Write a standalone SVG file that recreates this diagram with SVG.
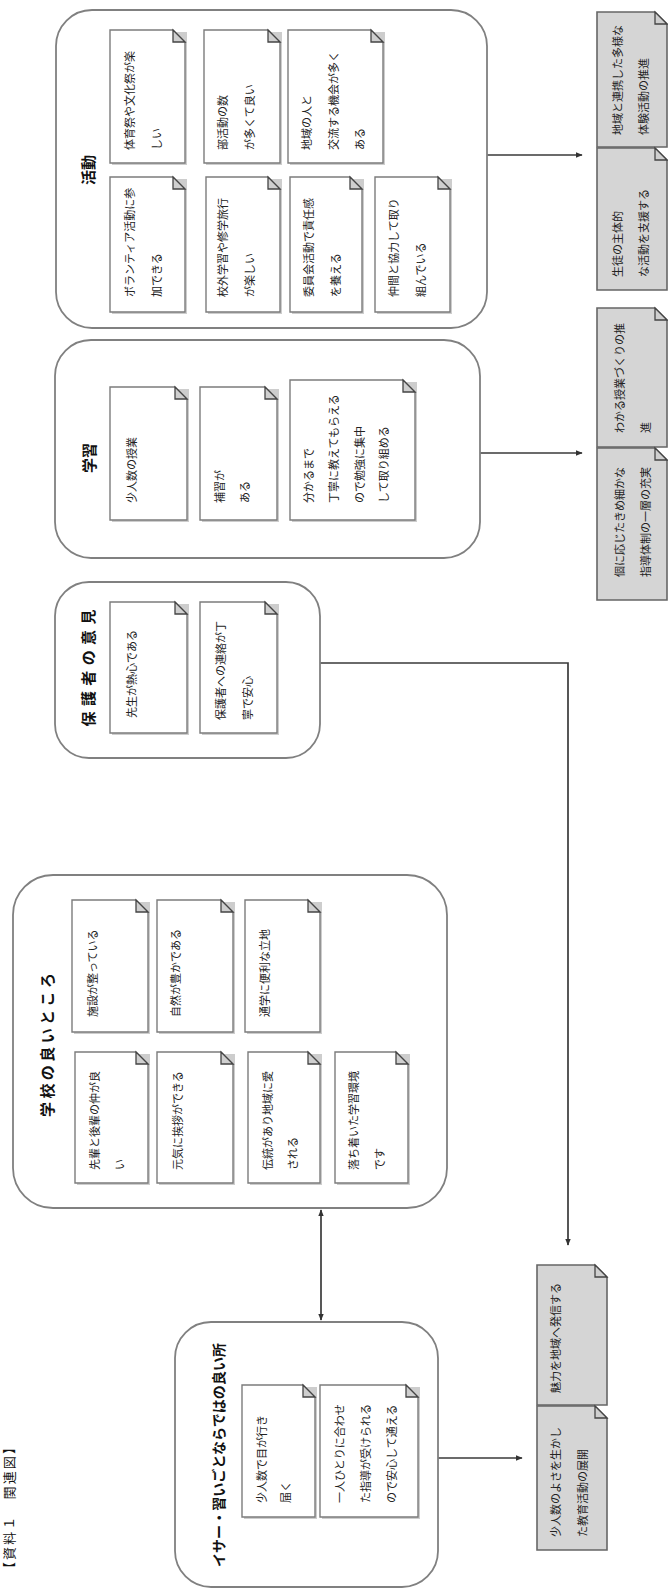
<svg xmlns="http://www.w3.org/2000/svg" width="668" height="1591" viewBox="0 0 668 1591">
<defs>
<style>
.grp{fill:#fff;stroke:#808080;stroke-width:1.8}
.card{fill:#fff;stroke:#7c7c7c;stroke-width:1.4}
.gcard{fill:#d5d5d5;stroke:#666;stroke-width:1.6}
.sh{fill:#cdcdcd}
.fold{fill:#cfcfcf;stroke:#444;stroke-width:1.3}
.t{font-family:"Noto Sans CJK JP","Noto Sans",sans-serif;font-size:11px;fill:#222;dominant-baseline:central}
.ti{font-family:"Noto Sans CJK JP","Noto Sans",sans-serif;font-size:15px;font-weight:bold;fill:#111;dominant-baseline:central;text-anchor:middle}
.cn{fill:none;stroke:#3a3a3a;stroke-width:1.7}
</style>
<marker id="ah" viewBox="0 0 10 10" refX="9" refY="5" markerWidth="7" markerHeight="7" orient="auto-start-reverse" markerUnits="userSpaceOnUse">
<path d="M0,1 L10,5 L0,9 Z" fill="#333"/>
</marker>
</defs>
<rect width="668" height="1591" fill="#fff"/>

<g id="title">
<text class="ti" style="font-size:13px;font-weight:normal" transform="translate(8,1508) rotate(-90)" textLength="134" lengthAdjust="spacing">【資料１　関連図】</text>
</g>

<g id="connectors">
<line class="cn" x1="487" y1="155" x2="582" y2="155" marker-end="url(#ah)"/>
<line class="cn" x1="480" y1="453" x2="582" y2="453" marker-end="url(#ah)"/>
<polyline class="cn" points="320,663 568,663 568,1245" marker-end="url(#ah)"/>
<line class="cn" x1="321" y1="1210" x2="321" y2="1320" marker-start="url(#ah)" marker-end="url(#ah)"/>
<line class="cn" x1="438" y1="1458" x2="522" y2="1458" marker-end="url(#ah)"/>
</g>

<g id="g1">
<rect class="grp" x="56" y="10" width="431" height="318" rx="36"/>
<text class="ti" transform="translate(87,170) rotate(-90)">活動</text>
<g id="c1a"><path class="sh" d="M112,32h75v133h-75z"/><path class="card" d="M110,30H173L185,42V163H110Z"/><path class="fold" d="M173,30V42H185Z"/>
<text class="t" transform="translate(129,150) rotate(-90)">体育祭や文化祭が楽</text><text class="t" transform="translate(156,150) rotate(-90)">しい</text></g>
<g id="c1b"><path class="sh" d="M206,32h76v133h-76z"/><path class="card" d="M204,30H268L280,42V163H204Z"/><path class="fold" d="M268,30V42H280Z"/>
<text class="t" transform="translate(222,150) rotate(-90)">部活動の数</text><text class="t" transform="translate(249,150) rotate(-90)">が多くて良い</text></g>
<g id="c1c"><path class="sh" d="M290,32h95v133h-95z"/><path class="card" d="M288,30H371L383,42V163H288Z"/><path class="fold" d="M371,30V42H383Z"/>
<text class="t" transform="translate(306,150) rotate(-90)">地域の人と</text><text class="t" transform="translate(333,150) rotate(-90)">交流する機会が多く</text><text class="t" transform="translate(359,150) rotate(-90)">ある</text></g>
<g id="c1d"><path class="sh" d="M112,179h75v135h-75z"/><path class="card" d="M110,177H173L185,189V312H110Z"/><path class="fold" d="M173,177V189H185Z"/>
<text class="t" transform="translate(129,297) rotate(-90)">ボランティア活動に参</text><text class="t" transform="translate(156,297) rotate(-90)">加できる</text></g>
<g id="c1e"><path class="sh" d="M208,179h74v135h-74z"/><path class="card" d="M206,177H268L280,189V312H206Z"/><path class="fold" d="M268,177V189H280Z"/>
<text class="t" transform="translate(222,297) rotate(-90)">校外学習や修学旅行</text><text class="t" transform="translate(249,297) rotate(-90)">が楽しい</text></g>
<g id="c1f"><path class="sh" d="M292,179h72v135h-72z"/><path class="card" d="M290,177H350L362,189V312H290Z"/><path class="fold" d="M350,177V189H362Z"/>
<text class="t" transform="translate(308,297) rotate(-90)">委員会活動で責任感</text><text class="t" transform="translate(335,297) rotate(-90)">を養える</text></g>
<g id="c1g"><path class="sh" d="M377,179h75v135h-75z"/><path class="card" d="M375,177H438L450,189V312H375Z"/><path class="fold" d="M438,177V189H450Z"/>
<text class="t" transform="translate(393,297) rotate(-90)">仲間と協力して取り</text><text class="t" transform="translate(420,297) rotate(-90)">組んでいる</text></g>
</g>

<g id="g2">
<rect class="grp" x="55" y="340" width="425" height="218" rx="36"/>
<text class="ti" transform="translate(88,458) rotate(-90)">学習</text>
<g id="c2a"><path class="sh" d="M112,389h77v133h-77z"/><path class="card" d="M110,387H175L187,399V520H110Z"/><path class="fold" d="M175,387V399H187Z"/>
<text class="t" transform="translate(131,503) rotate(-90)">少人数の授業</text></g>
<g id="c2b"><path class="sh" d="M202,389h77v133h-77z"/><path class="card" d="M200,387H265L277,399V520H200Z"/><path class="fold" d="M265,387V399H277Z"/>
<text class="t" transform="translate(219,503) rotate(-90)">補習が</text><text class="t" transform="translate(244,503) rotate(-90)">ある</text></g>
<g id="c2c"><path class="sh" d="M292,382h125v140h-125z"/><path class="card" d="M290,380H403L415,392V520H290Z"/><path class="fold" d="M403,380V392H415Z"/>
<text class="t" transform="translate(308,503) rotate(-90)">分かるまで</text><text class="t" transform="translate(333,503) rotate(-90)">丁寧に教えてもらえる</text><text class="t" transform="translate(359,503) rotate(-90)">ので勉強に集中</text><text class="t" transform="translate(383,503) rotate(-90)">して取り組める</text></g>
</g>

<g id="g3">
<rect class="grp" x="55" y="582" width="265" height="176" rx="34"/>
<text class="ti" transform="translate(87,668) rotate(-90)" textLength="117" lengthAdjust="spacing">保護者の意見</text>
<g id="c3a"><path class="sh" d="M112,604h77v131h-77z"/><path class="card" d="M110,602H175L187,614V733H110Z"/><path class="fold" d="M175,602V614H187Z"/>
<text class="t" transform="translate(131,718) rotate(-90)">先生が熱心である</text></g>
<g id="c3b"><path class="sh" d="M202,604h77v131h-77z"/><path class="card" d="M200,602H265L277,614V733H200Z"/><path class="fold" d="M265,602V614H277Z"/>
<text class="t" transform="translate(220,720) rotate(-90)">保護者への連絡が丁</text><text class="t" transform="translate(247,720) rotate(-90)">寧で安心</text></g>
</g>

<g id="g4">
<rect class="grp" x="13" y="875" width="434" height="333" rx="40"/>
<text class="ti" transform="translate(46,1045) rotate(-90)" textLength="144" lengthAdjust="spacing">学校の良いところ</text>
<g id="c4a"><path class="sh" d="M74,902h76v132h-76z"/><path class="card" d="M72,900H136L148,912V1032H72Z"/><path class="fold" d="M136,900V912H148Z"/>
<text class="t" transform="translate(92,1017) rotate(-90)">施設が整っている</text></g>
<g id="c4b"><path class="sh" d="M159,902h76v132h-76z"/><path class="card" d="M157,900H221L233,912V1032H157Z"/><path class="fold" d="M221,900V912H233Z"/>
<text class="t" transform="translate(175,1017) rotate(-90)">自然が豊かである</text></g>
<g id="c4c"><path class="sh" d="M247,902h75v132h-75z"/><path class="card" d="M245,900H308L320,912V1032H245Z"/><path class="fold" d="M308,900V912H320Z"/>
<text class="t" transform="translate(264,1017) rotate(-90)">通学に便利な立地</text></g>
<g id="c4d"><path class="sh" d="M77,1054h73v131h-73z"/><path class="card" d="M75,1052H136L148,1064V1183H75Z"/><path class="fold" d="M136,1052V1064H148Z"/>
<text class="t" transform="translate(94,1170) rotate(-90)">先輩と後輩の仲が良</text><text class="t" transform="translate(119,1170) rotate(-90)">い</text></g>
<g id="c4e"><path class="sh" d="M159,1054h76v131h-76z"/><path class="card" d="M157,1052H221L233,1064V1183H157Z"/><path class="fold" d="M221,1052V1064H233Z"/>
<text class="t" transform="translate(177,1170) rotate(-90)">元気に挨拶ができる</text></g>
<g id="c4f"><path class="sh" d="M250,1054h72v131h-72z"/><path class="card" d="M248,1052H308L320,1064V1183H248Z"/><path class="fold" d="M308,1052V1064H320Z"/>
<text class="t" transform="translate(267,1170) rotate(-90)">伝統があり地域に愛</text><text class="t" transform="translate(292,1170) rotate(-90)">される</text></g>
<g id="c4g"><path class="sh" d="M337,1054h73v131h-73z"/><path class="card" d="M335,1052H396L408,1064V1183H335Z"/><path class="fold" d="M396,1052V1064H408Z"/>
<text class="t" transform="translate(353,1170) rotate(-90)">落ち着いた学習環境</text><text class="t" transform="translate(379,1170) rotate(-90)">です</text></g>
</g>

<g id="g5">
<rect class="grp" x="175" y="1322" width="263" height="265" rx="36"/>
<text class="ti" style="font-size:14px" transform="translate(218,1455) rotate(-90)" textLength="224" lengthAdjust="spacing">イサー・習いごとならではの良い所</text>
<g id="c5a"><path class="sh" d="M244,1387h73v132h-73z"/><path class="card" d="M242,1385H303L315,1397V1517H242Z"/><path class="fold" d="M303,1385V1397H315Z"/>
<text class="t" transform="translate(261,1503) rotate(-90)">少人数で目が行き</text><text class="t" transform="translate(285,1503) rotate(-90)">届く</text></g>
<g id="c5b"><path class="sh" d="M322,1387h98v132h-98z"/><path class="card" d="M320,1385H406L418,1397V1517H320Z"/><path class="fold" d="M406,1385V1397H418Z"/>
<text class="t" transform="translate(339,1503) rotate(-90)">一人ひとりに合わせ</text><text class="t" transform="translate(365,1503) rotate(-90)">た指導が受けられる</text><text class="t" transform="translate(391,1503) rotate(-90)">ので安心して通える</text></g>
</g>

<g id="outA1"><path class="gcard" d="M597,12H655L667,24V147H597Z"/><path class="fold" d="M655,12V24H667Z"/>
<text class="t" transform="translate(617,135) rotate(-90)">地域と連携した多様な</text><text class="t" transform="translate(643,135) rotate(-90)">体験活動の推進</text></g>
<g id="outA2"><path class="gcard" d="M597,148H655L667,160V290H597Z"/><path class="fold" d="M655,148V160H667Z"/>
<text class="t" transform="translate(617,277) rotate(-90)">生徒の主体的</text><text class="t" transform="translate(643,277) rotate(-90)">な活動を支援する</text></g>
<g id="outB1"><path class="gcard" d="M597,308H655L667,320V447H597Z"/><path class="fold" d="M655,308V320H667Z"/>
<text class="t" transform="translate(619,433) rotate(-90)">わかる授業づくりの推</text><text class="t" transform="translate(645,433) rotate(-90)">進</text></g>
<g id="outB2"><path class="gcard" d="M597,448H655L667,460V600H597Z"/><path class="fold" d="M655,448V460H667Z"/>
<text class="t" transform="translate(619,577) rotate(-90)">個に応じたきめ細かな</text><text class="t" transform="translate(645,577) rotate(-90)">指導体制の一層の充実</text></g>
<g id="outC1"><path class="gcard" d="M537,1265H595L607,1277V1405H537Z"/><path class="fold" d="M595,1265V1277H607Z"/>
<text class="t" transform="translate(555,1393) rotate(-90)">魅力を地域へ発信する</text></g>
<g id="outC2"><path class="gcard" d="M537,1406H595L607,1418V1550H537Z"/><path class="fold" d="M595,1406V1418H607Z"/>
<text class="t" transform="translate(555,1537) rotate(-90)">少人数のよさを生かし</text><text class="t" transform="translate(582,1537) rotate(-90)">た教育活動の展開</text></g>
</svg>
